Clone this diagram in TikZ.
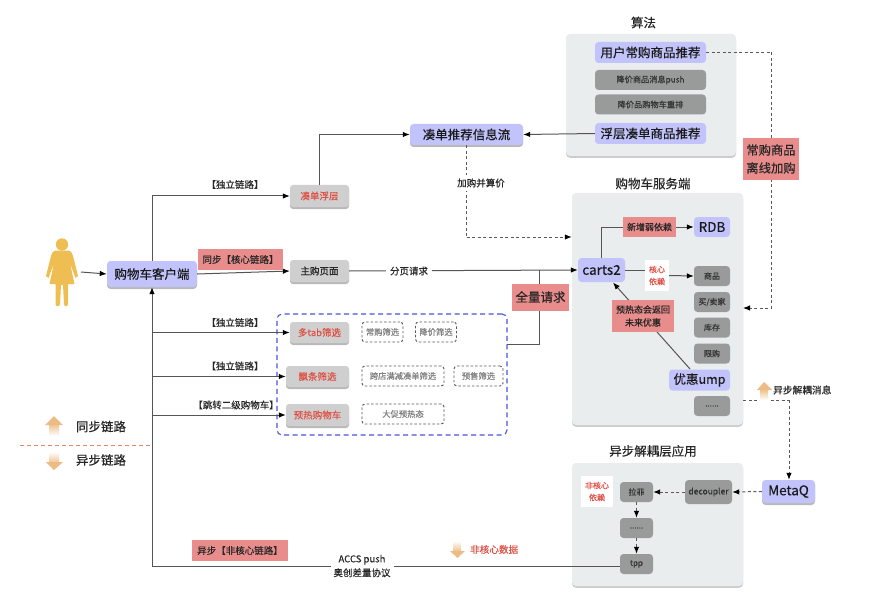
\documentclass[tikz,border=0pt]{standalone}
\usepackage{fontspec}
\setmainfont{Noto Sans CJK SC}[FakeBold=0.35]
\usetikzlibrary{arrows.meta,shadows,calc}
\definecolor{panelfill}{HTML}{E9EDEE}
\definecolor{lilac}{HTML}{C2C3FB}
\definecolor{greyfill}{HTML}{999A9A}
\definecolor{lightfill}{HTML}{CFCFCF}
\definecolor{redlabel}{HTML}{E88C8C}
\definecolor{redtext}{HTML}{DE5246}
\definecolor{linegrey}{HTML}{555555}
\definecolor{dashblue}{HTML}{4A55D6}
\definecolor{dividerred}{HTML}{E8876A}
\definecolor{syncorange}{HTML}{EDBB84}
\definecolor{personyellow}{HTML}{EFBE52}
\tikzset{
  x=1pt,y=-1pt,
  lbl/.style={font=\fontsize{#1}{#1}\selectfont,text=black!85,inner sep=0pt,align=center},
  panel/.style={fill=panelfill,rounded corners=4pt,inner sep=0pt,drop shadow={shadow xshift=0pt,shadow yshift=-1.8pt,opacity=.4}},
  lilacbox/.style={fill=lilac,rounded corners=3.5pt,font=\fontsize{#1}{#1}\selectfont,text=black!90,inner sep=0pt},
  shadowed/.style={drop shadow={shadow xshift=0pt,shadow yshift=-2pt,opacity=.55}},
  greyitem/.style={fill=greyfill,rounded corners=3.5pt,font=\fontsize{#1}{#1}\selectfont,text=black!80,inner sep=0pt},
  filterbox/.style={fill=lightfill,rounded corners=3pt,shadowed,font=\fontsize{9.5}{9.5}\selectfont,text=redtext,inner sep=0pt},
  optionbox/.style={draw=black!65,line width=.9pt,dash pattern=on 2.5pt off 2pt,rounded corners=3pt,font=\fontsize{8.3}{8.3}\selectfont,text=black!50,inner sep=0pt},
  redtag/.style={fill=redlabel,font=\fontsize{#1}{#1}\selectfont,text=black!85,inner sep=0pt,align=center},
  whitenote/.style={fill=white,inner sep=0pt,font=\fontsize{8}{12}\selectfont,text=redtext,align=center},
  link/.style={draw=linegrey,line width=1pt,-{Latex[length=7pt,width=5.5pt,color=black]}},
  plain/.style={draw=linegrey,line width=1pt},
  dashlink/.style={draw=black!65,line width=1pt,dash pattern=on 3pt off 2.5pt,-{Latex[length=7pt,width=5.5pt,color=black]}},
  dashplain/.style={draw=black!65,line width=1pt,dash pattern=on 3pt off 2.5pt},
}
\begin{document}
\begin{tikzpicture}
\useasboundingbox (0,0) rectangle (884,607);
\fill[white] (0,0) rectangle (884,607);

% panels and their titles
\node[panel,minimum width=170pt,minimum height=122pt] (algopanel) at (651,95) {};
\node[panel,minimum width=171pt,minimum height=232pt] (serverpanel) at (657.5,309) {};
\node[panel,minimum width=171pt,minimum height=123pt] (asyncpanel) at (657.5,524.5) {};
\node[lbl=12.5] (algotitle) at (643.5,22.5) {算法};
\node[lbl=12.5] (servertitle) at (653,183.5) {购物车服务端};
\node[lbl=12.5] (asynctitle) at (653,451) {异步解耦层应用};

% user figure
\fill[personyellow] (62,244.5) circle (6.2);
\fill[personyellow] (55,250.5) -- (69,250.5) .. controls (71,251) and (72,253) .. (73,256) -- (78,276) -- (75.5,278) -- (70,263) -- (74.5,284) -- (68,284) -- (68,304) .. controls (68,307) and (64,307) .. (64,304) -- (63,285) -- (61,285) -- (60,304) .. controls (60,307) and (55.5,307) .. (55.5,304) -- (55.5,284) -- (49.5,284) -- (54,263) -- (48.5,278) -- (46,276) -- (51,256) .. controls (52,253) and (53,251) .. (55,250.5) -- cycle;
\coordinate (personout) at (81,272);

% client
\node[lilacbox=12.5,minimum width=90pt,minimum height=26pt,shadowed] (client) at (152,274) {购物车客户端};

% filter group frame
\node[draw=dashblue,line width=1.1pt,dash pattern=on 5pt off 3.5pt,rounded corners=5pt,minimum width=230pt,minimum height=121pt,inner sep=0pt] (frame) at (392,374.5) {};
\coordinate (frameout) at (507,344);

% client-side boxes
\node[filterbox,minimum width=59pt,minimum height=22pt] (coudan) at (319.5,196) {凑单浮层};
\node[filterbox,text=black!85,minimum width=59pt,minimum height=22pt] (mainpage) at (319.5,271) {主购页面};
\node[filterbox,minimum width=59pt,minimum height=21pt] (multitab) at (319.5,332.5) {多tab筛选};
\node[filterbox,minimum width=63pt,minimum height=21pt] (piaotiao) at (317.5,376.5) {飘条筛选};
\node[filterbox,minimum width=63pt,minimum height=22pt] (yure) at (317.5,415) {预热购物车};

% filter options
\node[optionbox,minimum width=41pt,minimum height=20pt] (opta) at (382.5,332) {常购筛选};
\node[optionbox,minimum width=41pt,minimum height=20pt] (optb) at (436,332) {降价筛选};
\node[optionbox,minimum width=82pt,minimum height=20pt] (optc) at (403,376) {跨店满减凑单筛选};
\node[optionbox,minimum width=49pt,minimum height=20pt] (optd) at (478.5,376) {预售筛选};
\node[optionbox,minimum width=82pt,minimum height=20pt] (opte) at (403,414) {大促预热态};

% recommendation stream
\node[lilacbox=12.5,minimum width=113pt,minimum height=21pt,shadowed] (stream) at (466.5,134.5) {凑单推荐信息流};

% algorithm services
\node[lilacbox=12.5,minimum width=111pt,minimum height=21pt] (algoa) at (650.5,52.5) {用户常购商品推荐};
\node[greyitem=8.2,minimum width=111pt,minimum height=20pt] (algob) at (650.5,80) {降价商品消息push};
\node[greyitem=8.2,minimum width=111pt,minimum height=20pt] (algoc) at (650.5,104.5) {降价品购物车重排};
\node[lilacbox=12.5,minimum width=111pt,minimum height=21pt] (algod) at (650.5,133.5) {浮层凑单商品推荐};

% server side
\node[lilacbox=13.5,minimum width=47pt,minimum height=24pt] (carts) at (601.5,270) {carts2};
\node[lilacbox=13.5,minimum width=36pt,minimum height=20pt] (rdb) at (712,227) {RDB};
\node[greyitem=8,minimum width=36pt,minimum height=20pt] (goods) at (712,276) {商品};
\node[greyitem=8,minimum width=36pt,minimum height=20pt] (seller) at (712,302) {买/卖家};
\node[greyitem=8,minimum width=36pt,minimum height=20pt] (stock) at (712,327.5) {库存};
\node[greyitem=8,minimum width=36pt,minimum height=20pt] (limit) at (712,353.5) {限购};
\node[lilacbox=12.5,minimum width=61pt,minimum height=21pt] (ump) at (699.5,380) {优惠ump};
\node[greyitem=8,minimum width=36pt,minimum height=20pt] (more) at (712,406) {......};

% decoupling layer
\node[greyitem=8,minimum width=33pt,minimum height=20pt] (lafei) at (636.5,492) {拉菲};
\node[greyitem=8.5,minimum width=47pt,minimum height=24pt] (decoupler) at (708.5,492) {decoupler};
\node[greyitem=8,minimum width=33pt,minimum height=20pt] (dots) at (636.5,528) {......};
\node[greyitem=8,minimum width=33pt,minimum height=20pt] (tpp) at (636.5,564) {tpp};
\node[lilacbox=13.5,minimum width=53pt,minimum height=23pt,shadowed] (metaq) at (788.5,491.5) {MetaQ};
\node[whitenote,minimum width=32pt,minimum height=31pt] (noncore) at (597,491.5) {非核心\\依赖};

% solid connectors
\coordinate (trunkbottom) at (152,566);
\draw[link] (personout) -- (client.west);
\draw[link] (client.north) |- (coudan.west);
\draw[link] (client.east) -- (mainpage.west);
\draw[link] (trunkbottom -| tpp.west) -- (trunkbottom) -- (client.south);
\draw[link] (trunkbottom |- multitab.west) -- (multitab.west);
\draw[link] (trunkbottom |- piaotiao.west) -- (piaotiao.west);
\draw[link] (trunkbottom |- yure.west) -- (yure.west);
\draw[link] (coudan.north) |- (stream.west);
\draw[link] (algod.west) -- (stream.east);
\draw[link] (mainpage.east) -- (carts.west);
\coordinate (fullup) at (539,270);
\draw[plain] (frameout) -| (fullup);
\draw[link] (carts.north) |- (rdb.west);
\node[whitenote,minimum width=24pt,minimum height=31pt] (core) at (657,275.5) {核心\\依赖};
\coordinate (umpout) at (690,369);
\coordinate (cartsin) at (613,282.5);
\draw[link] (umpout) -- (cartsin);
\draw[plain] (carts.east) -- (carts.east -| core.west);
\draw[link] (core.east) -- (goods.west);

% dashed connectors
\coordinate (addcorner) at (stream.south |- 0,237);
\coordinate (offlinecorner) at (771,52.5);
\coordinate (msgout) at (743,400);
\coordinate (msgcorner) at (789,400);
\draw[dashplain] (stream.south) -- (addcorner);
\draw[dashlink] (addcorner) -- (serverpanel.west |- addcorner);
\draw[dashplain] (algoa.east) -- (offlinecorner);
\draw[dashlink] (offlinecorner) |- (743,308);
\draw[dashplain] (msgout) -- (msgcorner);
\draw[dashlink] (msgcorner) -- (metaq.north -| msgcorner);
\draw[dashlink] (metaq.west) -- (decoupler.east);
\draw[dashlink] (decoupler.west) -- (lafei.east);
\draw[dashlink] (lafei.south) -- (dots.north);
\draw[dashlink] (dots.south) -- (tpp.north);

% divider between the two kinds of link
\draw[dividerred,line width=1pt,dash pattern=on 4pt off 3pt] (20,445) -- (152,445);

% link labels
\node[lbl=9.5] (la) at (235,184.5) {【独立链路】};
\node[redtag=9.5,minimum width=85pt,minimum height=21pt] (sync) at (240.5,259.5) {同步【核心链路】};
\node[lbl=9.5] (lb) at (235,322.5) {【独立链路】};
\node[lbl=9.5] (lc) at (235,366) {【独立链路】};
\node[lbl=9.5] (ld) at (236,405) {【跳转二级购物车】};
\node[redtag=9.5,minimum width=96pt,minimum height=21pt] (asynctag) at (240,550.5) {异步【非核心链路】};
\node[fill=white,lbl=9.5,inner xsep=4pt,inner ysep=2pt] (paging) at (409,271) {分页请求};
\node[fill=white,lbl=9.5,inner xsep=2pt,inner ysep=4pt] (addcart) at (481,183) {加购并算价};
\node[redtag=12.5,minimum width=57pt,minimum height=27pt] (fullreq) at (540.5,297) {全量请求};
\node[fill=white,lbl=9.5,font=\fontsize{9.5}{14}\selectfont,inner xsep=3pt,inner ysep=1pt] (accs) at (362,566) {ACCS push\\奥创差量协议};
\node[redtag=9,minimum width=53pt,minimum height=20pt] (weak) at (649.5,227) {新增弱依赖};
\node[redtag=9,minimum width=62pt,minimum height=32pt,font=\fontsize{9}{13}\selectfont] (hot) at (643,316) {预热态会返回\\未来优惠};
\node[redtag=12.3,minimum width=56pt,minimum height=42pt,font=\fontsize{12.3}{18}\selectfont] (offline) at (771,159) {常购商品\\离线加购};

% legend arrows and texts
\shade[top color=syncorange,bottom color=white] (49,423) rectangle (59,436);
\fill[syncorange] (45,425) -- (54,416) -- (63,425) -- cycle;
\shade[top color=white,bottom color=syncorange] (49,452) rectangle (59,464);
\fill[syncorange] (46,462) -- (54,470) -- (63,462) -- cycle;
\node[lbl=12.5] (ga) at (101,426.5) {同步链路};
\node[lbl=12.5] (gb) at (101,460) {异步链路};

\shade[top color=syncorange,bottom color=white] (760,389) rectangle (768,400);
\fill[syncorange] (757,390) -- (764,382) -- (772,390) -- cycle;
\node[lbl=9.7,anchor=west] (msg) at (773,390) {异步解耦消息};
\shade[top color=white,bottom color=syncorange] (453,541) rectangle (461,552);
\fill[syncorange] (450,551) -- (457.5,558) -- (465,551) -- cycle;
\node[lbl=9.6,anchor=west,text=redtext] (noncoredata) at (470,549.5) {非核心数据};
\end{tikzpicture}
\end{document}
